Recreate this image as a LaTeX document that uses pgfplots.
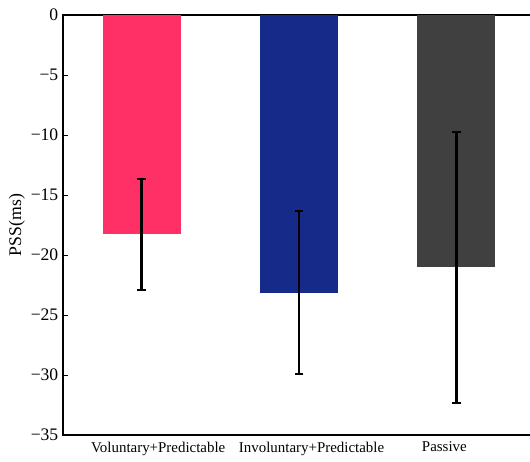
\documentclass[border=0pt]{standalone}
\usepackage{pgfplots}
\pgfplotsset{compat=1.18}
\usepackage{fontspec}
\setmainfont{Liberation Serif}
\definecolor{pssred}{RGB}{255,48,102}
\definecolor{pssblue}{RGB}{22,42,138}
\definecolor{pssgrey}{RGB}{64,64,64}
\begin{document}
\begin{tikzpicture}
\useasboundingbox (-47.25pt,-19.5pt) rectangle (350.25pt,326.25pt);
\begin{axis}[
at={(0,0)},anchor=south west,
scale only axis,width=354pt,height=315pt,
xmin=0.5,xmax=3.5,ymin=-35,ymax=0,
ybar,bar width=58.5pt,bar shift=0pt,
xtick={1.105,2.08,2.924},
xticklabels={Voluntary+Predictable,Involuntary+Predictable,Passive},
x tick style={draw=none},
ytick={-35,-30,...,0},
yticklabels={−35,−30,−25,−20,−15,−10,−5,0},
y tick style={black,line width=0.6pt},
tick align=inside,
major tick length=4pt,
ytick pos=both,
axis line style={line width=1pt},
xticklabel style={yshift=-1.5pt,font=\fontsize{11.2}{13}\selectfont},
yticklabel style={font=\fontsize{13.2}{15}\selectfont},
ylabel={PSS(ms)},
every axis y label/.append style={at={(axis description cs:-0.0975,0.5)},anchor=center,font=\fontsize{13.3}{15}\selectfont},
error bars/y dir=both,
error bars/y explicit,
error bars/error bar style={line width=2pt,draw=black},
error bars/error mark options={rotate=90,mark size=3.2pt,line width=2pt,draw=black},
]
\addplot[draw=none,fill=pssred] coordinates {(1,-18.29) +- (0,4.62)};
\addplot[draw=none,fill=pssblue] coordinates {(2,-23.13) +- (0,6.79)};
\addplot[draw=none,fill=pssgrey] coordinates {(3,-21.04) +- (0,11.29)};
\end{axis}
\end{tikzpicture}
\end{document}
